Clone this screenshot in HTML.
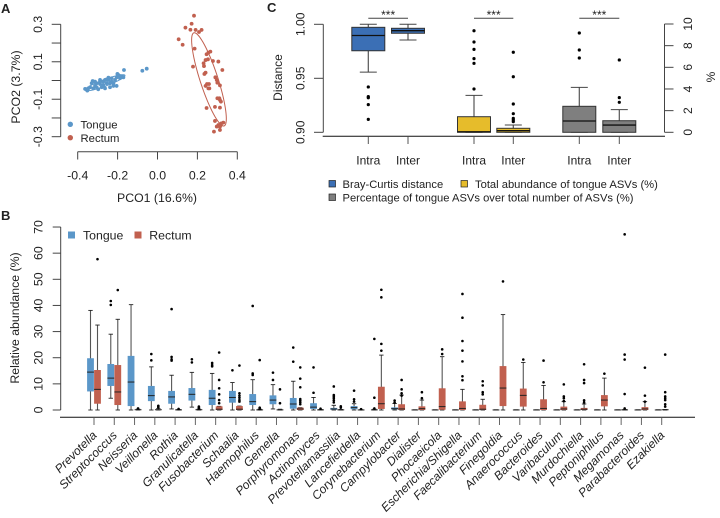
<!DOCTYPE html>
<html lang="en">
<head>
<meta charset="utf-8">
<title>Tongue and rectum microbiome chart</title>
<style>
html,body{margin:0;padding:0;background:#fff;width:720px;height:518px;overflow:hidden}
svg{display:block}
text{font-family:"Liberation Sans",sans-serif;fill:#222}
</style>
</head>
<body>
<svg id="fig" xmlns="http://www.w3.org/2000/svg" width="720" height="518" viewBox="0 0 720 518">
  <text x="1" y="13" font-size="13" font-weight="bold" fill="#000">A</text>
  <text x="1" y="220" font-size="13" font-weight="bold" fill="#000">B</text>
  <text x="267" y="12" font-size="13" font-weight="bold" fill="#000">C</text>

  <text x="157" y="202" font-size="12.3" text-anchor="middle">PCO1 (16.6%)</text>
  <text transform="translate(20,87) rotate(-90)" font-size="12.3" text-anchor="middle">PCO2 (3.7%)</text>
  <circle cx="70.3" cy="124.3" r="2.7" fill="#5b97c9"/>
  <text x="80.5" y="128.5" font-size="11.3">Tongue</text>
  <circle cx="70.3" cy="137.7" r="2.7" fill="#c1604f"/>
  <text x="80.5" y="142" font-size="11.3">Rectum</text>

  <text transform="translate(282,77.5) rotate(-90)" font-size="12" text-anchor="middle">Distance</text>
  <text transform="translate(715,77) rotate(-90)" font-size="12" text-anchor="middle">%</text>
  <rect x="329" y="180.5" width="6.5" height="6.5" fill="#3b6fb5" stroke="#222" stroke-width=".7"/>
  <text x="342.5" y="188" font-size="11.2">Bray-Curtis distance</text>
  <rect x="461" y="180.5" width="6.5" height="6.5" fill="#e6bc2b" stroke="#222" stroke-width=".7"/>
  <text x="475" y="188" font-size="11.2">Total abundance of tongue ASVs (%)</text>
  <rect x="329" y="194" width="6.5" height="6.5" fill="#7f7f7f" stroke="#222" stroke-width=".7"/>
  <text x="342.5" y="201.5" font-size="11.2">Percentage of tongue ASVs over total number of ASVs (%)</text>

  <rect x="68" y="231.5" width="7" height="7" fill="#5b97c9"/>
  <text x="83" y="239.5" font-size="12.3">Tongue</text>
  <rect x="134.500" y="231.5" width="7" height="7" fill="#c1604f"/>
  <text x="149.300" y="239.5" font-size="12.3">Rectum</text>
  <text transform="translate(19,318) rotate(-90)" font-size="12.300" text-anchor="middle">Relative abundance (%)</text>
</svg>

<script>
// ---------- Panel A data ----------
const pcoaXTicks = [-0.4, -0.2, 0, 0.2, 0.4];
const pcoaYTicks = [-0.3, -0.2, -0.1, 0, 0.1, 0.2, 0.3];
const pcoaYLabels = [-0.3, -0.1, 0.1, 0.3];
const tonguePco1 = [-.168,-.076,-.054,-.196,-.175,-.188,-.205,-.230,-.255,-.288,-.325,-.363,-.352,-.338,-.313,-.330,-.305,-.288,-.272,-.246,-.221,-.205,-.238,-.263,-.297,-.322,-.272,-.255,-.213,-.188,-.230,-.280,-.305,-.347,-.288,-.263,-.246,-.171,-.201,-.238,-.221,-.313];
const tonguePco2 = [.056,.052,.063,.029,.020,.012,.017,.012,.006,.003,-.003,-.045,-.054,-.036,-.029,-.015,-.015,-.019,-.006,.003,-.015,-.029,-.036,-.042,-.047,-.042,-.024,-.015,.003,.024,-.006,-.036,-.036,-.042,-.006,.003,.015,.017,.035,-.015,-.029,-.006];
const rectumPco1 = [.183,.171,.140,.165,.191,.208,.221,.106,.126,.186,.265,.255,.246,.241,.253,.278,.305,.231,.178,.233,.325,.241,.235,.290,.297,.300,.248,.258,.241,.313,.255,.260,.310,.300,.313,.318,.246,.288,.313,.288,.330,.320,.305,.297,.313,.313,.283,.317];
const rectumPco2 = [.346,.303,.282,.271,.270,.259,.270,.220,.191,.170,.154,.149,.140,.109,.113,.104,.101,.092,.074,.077,.056,.042,.035,.017,.003,-.012,-.019,-.019,-.029,-.026,-.042,-.042,-.095,-.095,-.104,-.113,-.147,-.141,-.145,-.216,-.225,-.229,-.238,-.246,-.246,-.264,-.273,-.238];
const tongueEllipse = [-.263, -.012, .100, .043, .45];
const rectumEllipse = [.258, .006, .087, -.249, .57];

// ---------- Panel C data ----------
const distanceTicks = ["0.90", "0.95", "1.00"];
const percentTicks = [0, 2, 4, 6, 8, 10];
const groupLabels = ["Intra", "Inter", "Intra", "Inter", "Intra", "Inter"];
const groupAxis = ["distance", "distance", "percent", "percent", "percent", "percent"];
const groupColors = ["#3b6fb5", "#3b6fb5", "#e6bc2b", "#e6bc2b", "#7f7f7f", "#7f7f7f"];
const groupQ1 = [.9755, .9917, 0, 0, 0, 0];
const groupMedian = [.9896, .9941, .05, .15, 1.04, .67];
const groupQ3 = [.9972, .9963, 1.44, .37, 2.4, 1.07];
const groupLow = [.9557, .9855, 0, 0, 0, 0];
const groupHigh = [1.0, 1.0, 3.41, .67, 4.15, 2.09];
const groupOutliers = [
  [.942, .933, .932, .9256, .912],
  [],
  [9.38, 8.34, 7.66, 6.8, 6.37, 4.0],
  [7.39, 5.13, 2.61, 1.72, 1.29, 1.14, .98],
  [9.17, 7.6, 6.86],
  [6.68, 3.2, 2.77]
];

// ---------- Panel B data ----------
const genera = ["Prevotella","Streptococcus","Neisseria","Veillonella","Rothia","Granulicatella","Fusobacterium","Schaalia","Haemophilus","Gemella","Porphyromonas","Actinomyces","Prevotellamassilia","Lancefieldella","Corynebacterium","Campylobacter","Dialister","Phocaeicola","Escherichia/Shigella","Faecalibacterium","Finegoldia","Anaerococcus","Bacteroides","Varibaculum","Murdochiella","Peptoniphilus","Megamonas","Parabacteroides","Ezakiella"];
const abundanceTicks = [0, 10, 20, 30, 40, 50, 60, 70];
const tongueQ1 = [7.1,9.2,1.5,3.4,2.4,3.6,1.9,2.8,1.9,2.2,.5,.4,.1,.3,0,.2,0,0,0,0,0,0,0,0,0,0,0,0,0];
const tongueMed = [14.5,12.2,10.7,5.5,5,6,4.5,4.8,3.2,3.8,2.3,1.1,.4,.9,.05,.5,.02,.02,.02,.02,.02,.02,.02,.02,.02,.02,.02,.02,.02];
const tongueQ3 = [19.8,17.6,20.7,9.2,7.3,8.4,7.7,7.3,6.1,5.6,4.6,2.6,.8,1.5,.1,1,.05,.05,.05,.05,.05,.05,.05,.05,.05,.05,.05,.05,.05];
const tongueLow = [0,4.5,0,0,.4,1.1,0,0,0,.4,0,0,0,0,0,0,0,0,0,0,0,0,0,0,0,0,0,0,0];
const tongueHigh = [38.1,29,40.3,16.5,13.3,14.4,14,10.5,11.6,9.7,11,4.8,1.8,2.4,.3,2.5,.1,.1,.1,.1,.1,.1,.1,.1,.1,.1,.1,.1,.1];
const tongueOutliers = [[],[41.7,40.2],[],[21.4,19],[38.6,20.3,19.4,18.9],[19.4,18.2],[18,17.2,16.7],[15.2],[39.8,14,13.4],[14.3,11.5],[23.9,18.5],[16.3,6.6],[9,5.7,5.1,4.5,3.7,2.9],[7.4,4.1,3.2],[27.2,4.7,.6],[3.6,2.8],[],[],[],[],[],[],[],[],[],[],[],[],[]];
const rectumQ1 = [2.4,1.9,0,0,0,0,0,0,0,0,0,0,0,0,.4,0,0,.1,0,0,1.5,1.3,0,0,0,1.4,0,0,0];
const rectumMed = [7.9,6.9,.1,.1,.05,.1,.3,.3,.05,.05,.4,.05,.05,.02,2.4,.4,.5,1.3,.6,.3,8.4,5.6,.6,.4,.3,3.8,.05,.4,.1];
const rectumQ3 = [15.3,17.2,.2,.2,.1,.2,1.4,1.5,.1,.1,.9,.1,.1,.05,8.9,2.2,1.4,8.3,3.3,2,16.8,8.2,4.1,1.3,.8,5.7,.1,1.1,.1];
const rectumLow = [0,0,0,0,0,0,0,0,0,0,0,0,0,0,0,0,0,0,0,0,0,0,0,0,0,0,0,0,0];
const rectumHigh = [32.5,34.7,.3,.5,.2,.3,1.4,1.5,.3,.3,.9,.2,.2,.1,21,5.7,3.8,20.4,7.9,4.1,36.5,18.2,9.4,3.2,2.3,12.2,.2,3.2,.2];
const rectumOutliers = [[57.7],[45.9],[.6],[1,1.4,1.6],[.4],[.6,.9,1.3],[22,11.5,8.3,6,3.8,2.6],[17,6.4,5.5,4.7,3.8,3.2],[19.1,.9,.4],[7.9,2.6],[16.3,12,8.7,4.2,3.6,2.9,2.2],[.5],[1.4,.9],[.3],[46,43.1,25.3,22.7],[11.5,7.9,6.4,5.5],[6.8,4.5],[23.2,21.4],[44.4,35.3,26.4,22.7,18.6,12.9,11.4],[11,9.4,6.8,6],[49.2],[19.3],[18.9,10.6],[9.8,5.2,4.5,3.4],[17.5,11.5,10.3,3.7,2.9],[13.9],[67.2,21.2,19.3,6.1,.6],[16.2,5.5,3.2],[21.2,6.8,5.2,4.5,3.8,2.2,1.3]];

// ---------- Axis functions ----------
const pcoaX = v => 157.5 + 199.5 * v;
const pcoaY = v => 80.5 - 187.3 * v;
const distanceY = v => 132.3 - (v - 0.9) * 1080;
const percentY = v => 132.3 - 10.83 * v;
const abundanceY = v => 410 - 2.614 * v;
const genusX = i => 94 + 20.275 * i;
const groupX = i => [368.3, 408, 474, 513.3, 579.3, 619.3][i];

const svg = document.getElementById('fig');
const NS = 'http://www.w3.org/2000/svg';
function make(tag, props, text) {
  const el = document.createElementNS(NS, tag);
  for (const k in props) el.setAttribute(k, props[k]);
  if (text !== undefined) el.textContent = text;
  svg.appendChild(el);
  
  return el;
}
function line(x1, y1, x2, y2, stroke, w) {
  return make('line', {x1, y1, x2, y2, stroke, 'stroke-width': w});
}

// ---------- Panel A ----------
const AX = '#444';
line(60.7, pcoaY(0.3), 60.7, pcoaY(-0.3), AX, 1);
pcoaYTicks.forEach(v => {
  const t = line(51.7, pcoaY(v), 60.7, pcoaY(v), AX, 1);
  
});
pcoaYLabels.forEach(v => {
  const t = make('text', {transform: `translate(42,${pcoaY(v)}) rotate(-90)`, 'font-size': 12.3, 'text-anchor': 'middle'}, v.toFixed(1));
  
});
line(pcoaX(-0.4), 151.7, pcoaX(0.4), 151.7, AX, 1);
pcoaXTicks.forEach(v => {
  const t = line(pcoaX(v), 151.7, pcoaX(v), 159.5, AX, 1);
  
  const l = make('text', {x: pcoaX(v), y: 179.500, 'font-size': 12.3, 'text-anchor': 'middle'}, v.toFixed(1));
  
});
function ellipsePath(p) {
  let d = '';
  for (let a = 0; a <= 72; a++) {
    const t = a / 72 * 2 * Math.PI;
    const x = pcoaX(p[0] + p[2] * Math.cos(t));
    const y = pcoaY(p[1] + p[3] * Math.cos(t - p[4]));
    d += (a ? 'L' : 'M') + x.toFixed(2) + ' ' + y.toFixed(2);
  }
  return d + 'Z';
}
make('path', {d: ellipsePath(tongueEllipse), fill: 'none', stroke: '#5b97c9', 'stroke-width': 1});
make('path', {d: ellipsePath(rectumEllipse), fill: 'none', stroke: '#c1604f', 'stroke-width': 1});
tonguePco1.forEach((x, i) => {
  const c = make('circle', {cx: pcoaX(x), cy: pcoaY(tonguePco2[i]), r: 1.9, fill: '#5b97c9'});
  
});
rectumPco1.forEach((x, i) => {
  const c = make('circle', {cx: pcoaX(x), cy: pcoaY(rectumPco2[i]), r: 1.9, fill: '#c1604f'});
  
});

// ---------- Panel C ----------
line(323.3, distanceY(1), 323.3, distanceY(0.9), AX, 1);
distanceTicks.forEach(s => {
  const v = parseFloat(s);
  const t = line(314, distanceY(v), 323.3, distanceY(v), AX, 1);
  
  const l = make('text', {transform: `translate(304.500,${distanceY(v)}) rotate(-90)`, 'font-size': 12, 'text-anchor': 'middle'}, s);
  
});
line(664.5, percentY(10), 664.5, percentY(0), AX, 1);
percentTicks.forEach(v => {
  const t = line(664.5, percentY(v), 673.500, percentY(v), AX, 1);
  
  const l = make('text', {transform: `translate(692,${percentY(v)}) rotate(-90)`, 'font-size': 12, 'text-anchor': 'middle'}, String(v));
  
});
line(322.7, 136.3, 665, 136.3, '#111', 1);
groupLabels.forEach((s, i) => {
  const scale = groupAxis[i] === 'distance' ? distanceY : percentY;
  const x = groupX(i), hw = 16.5, dark = '#333';
  line(x, 136.3, x, 144, '#555', 1);
  const lab = make('text', {x, y: 164.300, 'font-size': 12, 'text-anchor': 'middle'}, s);
  
  line(x, scale(groupHigh[i]), x, scale(groupLow[i]), '#555', 1.2);
  line(x - 8.5, scale(groupHigh[i]), x + 8.5, scale(groupHigh[i]), '#444', 1);
  line(x - 8.5, scale(groupLow[i]), x + 8.5, scale(groupLow[i]), '#444', 1);
  const top = scale(groupQ3[i]), bottom = scale(groupQ1[i]);
  const box = make('rect', {x: x - hw, y: top, width: 2 * hw, height: bottom - top, fill: groupColors[i], stroke: dark, 'stroke-width': 1});
  
  line(x - hw, scale(groupMedian[i]), x + hw, scale(groupMedian[i]), '#111', 1.3);
  groupOutliers[i].forEach(v => {
    const c = make('circle', {cx: x, cy: scale(v), r: 1.6, fill: '#000'});
    
  });
});
[[0, 1], [2, 3], [4, 5]].forEach(pair => {
  const a = groupX(pair[0]), b = groupX(pair[1]);
  line(a, 18.3, b, 18.3, '#444', 1);
  const s = make('text', {x: (a + b) / 2, y: 19, 'font-size': 12, 'text-anchor': 'middle'}, '***');
  
});

// ---------- Panel B ----------
line(60.7, abundanceY(70), 60.7, abundanceY(0), AX, 1);
abundanceTicks.forEach(v => {
  const t = line(52.7, abundanceY(v), 60.7, abundanceY(v), AX, 1);
  
  const l = make('text', {transform: `translate(42.500,${abundanceY(v)}) rotate(-90)`, 'font-size': 12.3, 'text-anchor': 'middle'}, String(v));
  
});
line(60, 417.3, 695, 417.3, '#111', 1);
function drawBox(x, q1, med, q3, lo, hi, out, color) {
  const hw = 3.4;
  line(x, abundanceY(hi), x, abundanceY(lo), '#555', 1.1);
  line(x - 2.2, abundanceY(hi), x + 2.2, abundanceY(hi), '#222', 0.9);
  line(x - 2.2, abundanceY(lo), x + 2.2, abundanceY(lo), '#222', 0.9);
  const top = abundanceY(q3);
  const box = make('rect', {x: x - hw, y: top, width: 2 * hw, height: abundanceY(q1) - top, fill: color});
  
  line(x - hw, abundanceY(med), x + hw, abundanceY(med), '#222', 1);
  out.forEach(v => {
    const c = make('circle', {cx: x, cy: abundanceY(v), r: 1.3, fill: '#000'});
    
  });
}
genera.forEach((g, i) => {
  const x = genusX(i);
  line(x, 417.3, x, 425, '#666', 1);
  const lab = make('text', {transform: `translate(${x + 3.5},${436}) rotate(-45)`, 'font-size': 12, 'font-style': 'italic', 'text-anchor': 'end'}, g);
  
  drawBox(x - 3.5, tongueQ1[i], tongueMed[i], tongueQ3[i], tongueLow[i], tongueHigh[i], tongueOutliers[i], '#5b97c9');
  drawBox(x + 3.5, rectumQ1[i], rectumMed[i], rectumQ3[i], rectumLow[i], rectumHigh[i], rectumOutliers[i], '#c1604f');
});
</script>
</body>
</html>
